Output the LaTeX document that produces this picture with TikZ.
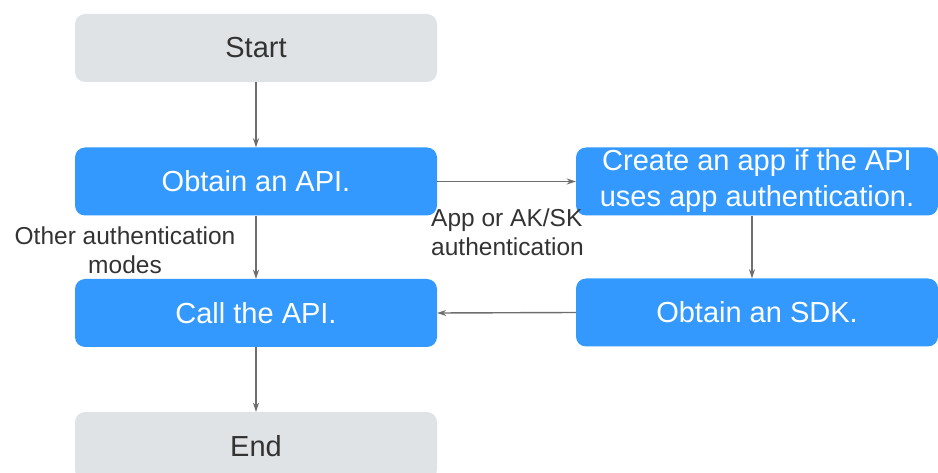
\documentclass[tikz,border=0pt]{standalone}
\usepackage{fontspec}
\setmainfont{Liberation Sans}
\usetikzlibrary{arrows.meta}
\definecolor{boxblue}{RGB}{51,153,255}
\definecolor{boxgrey}{RGB}{224,227,229}
\definecolor{linegrey}{RGB}{110,110,110}
\definecolor{txtdark}{RGB}{51,51,51}
\tikzset{
  blk/.style={rectangle, rounded corners=10pt, minimum width=362pt, minimum height=68pt, inner sep=0pt, align=center, font=\fontsize{29}{36}\selectfont},
  bluebox/.style={blk, fill=boxblue, text=white},
  greybox/.style={blk, fill=boxgrey, text=txtdark},
  lbl/.style={font=\fontsize{24.5}{29}\selectfont, text=txtdark, inner sep=0pt},
  conn/.style={draw=linegrey, line width=1.4pt, -{Stealth[length=9pt,width=6pt]}}
}
\begin{document}
\begin{tikzpicture}[x=1pt,y=-1pt]
\useasboundingbox (0,0) rectangle (938,473);
\node[greybox] (start) at (256,48) {Start};
\node[bluebox] (obtain) at (256,181.5) {Obtain an API.};
\node[bluebox] (call) at (256,313) {Call the API.};
\node[greybox] (end) at (256,446) {End};
\node[bluebox] (create) at (757,181.5) {Create an app if the API\\uses app authentication.};
\node[bluebox] (sdk) at (757,312.5) {Obtain an SDK.};
\node[lbl, align=center] (lother) at (125,250) {Other authentication\\modes};
\node[lbl, align=left] (lapp) at (507.5,232) {App or AK/SK\\authentication};
\draw[conn] (start) -- (obtain);
\draw[conn] (obtain) -- (call);
\draw[conn] (call) -- (end);
\draw[conn] (obtain.east) -- (create.west);
\draw[conn] ([xshift=-5pt]create.south) -- ([xshift=-5pt]sdk.north);
\draw[conn] (sdk.west) -- (call.east);
\end{tikzpicture}
\end{document}
